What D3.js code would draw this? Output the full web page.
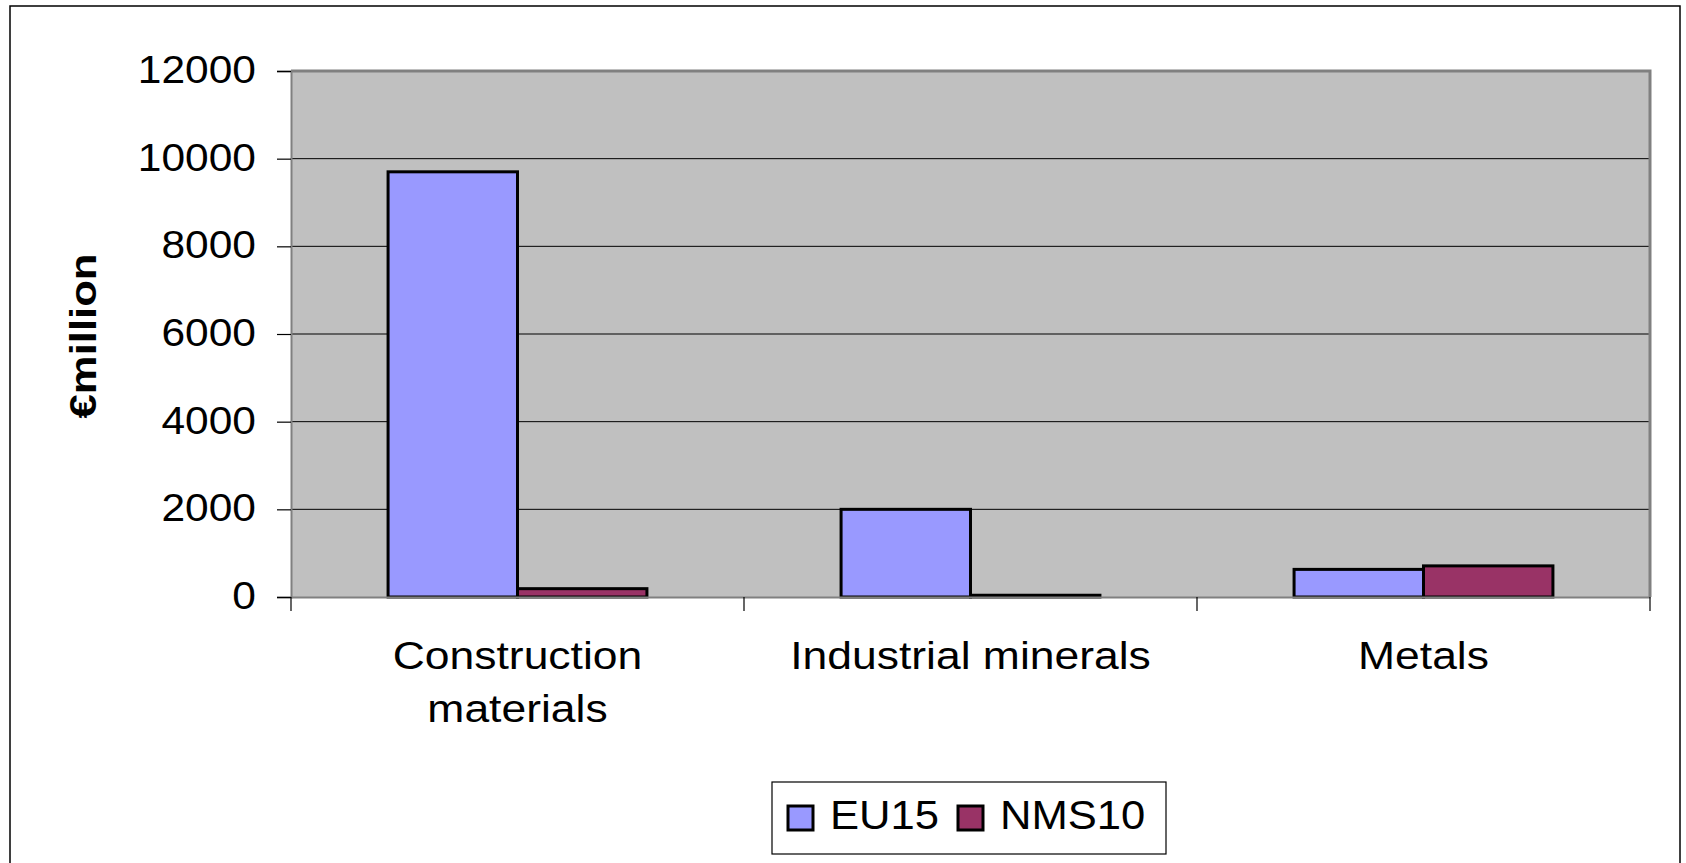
<!DOCTYPE html>
<html>
<head>
<meta charset="utf-8">
<script src="https://cdn.jsdelivr.net/npm/d3@7"></script>
<style>
  body { margin: 0; background: #fff; }
  text { font-family: "Liberation Sans", Arial, sans-serif; fill: #000; }
</style>
</head>
<body>
<div id="chart"></div>
<script>
// data
var categories = ["Construction materials", "Industrial minerals", "Metals"];
var categoryLines = [["Construction", "materials"], ["Industrial minerals"], ["Metals"]];
var seriesNames = ["EU15", "NMS10"];
var eu15 = [9700, 2000, 630];
var nms10 = [190, 40, 710];
var yTicks = [0, 2000, 4000, 6000, 8000, 10000, 12000];

var seriesColors = { "EU15": "#9999ff", "NMS10": "#993366" };
var seriesValues = { "EU15": eu15, "NMS10": nms10 };

var svgWidth = 1686;
var svgHeight = 863;

var plot = { left: 291, top: 71, right: 1650, bottom: 597 };

var svg = d3.select("#chart")
  .append("svg")
  .attr("width", svgWidth)
  .attr("height", svgHeight);

// outer chart frame (bottom edge runs off the picture)
svg.append("rect")
  .attr("x", 10)
  .attr("y", 6)
  .attr("width", 1670)
  .attr("height", 900)
  .attr("fill", "#fff")
  .attr("stroke", "#000")
  .attr("stroke-width", 1.5);

// scales
var xScale = d3.scaleBand()
  .domain(categories)
  .range([plot.left, plot.right])
  .paddingInner(0)
  .paddingOuter(0);

// excel gap width 150%
var gap = xScale.bandwidth() * 1.5 / 3.5;
var xSeries = d3.scaleBand()
  .domain(seriesNames)
  .range([gap / 2, xScale.bandwidth() - gap / 2]);

var yScale = d3.scaleLinear()
  .domain([0, 12000])
  .range([plot.bottom, plot.top]);

// stretched text helper, the original renders fonts a bit wide
function wideText(g, x, y, str, size, sx, anchor, weight) {
  return g.append("text")
    .attr("transform", `translate(${x}, ${y}) scale(${sx}, 1)`)
    .attr("font-size", size)
    .attr("font-weight", weight || "normal")
    .attr("text-anchor", anchor)
    .text(str);
}

// plot area
svg.append("rect")
  .attr("x", plot.left)
  .attr("y", plot.top)
  .attr("width", plot.right - plot.left)
  .attr("height", plot.bottom - plot.top)
  .attr("fill", "#c0c0c0");

// gridlines
svg.append("g")
  .selectAll("line")
  .data(yTicks.filter(d => d > 0 && d < 12000))
  .enter()
  .append("line")
  .attr("x1", plot.left)
  .attr("x2", plot.right)
  .attr("y1", d => yScale(d))
  .attr("y2", d => yScale(d))
  .attr("stroke", "#000")
  .attr("stroke-width", 1);

// plot border, top and right
svg.append("path")
  .attr("d", `M${plot.left},${plot.top}H${plot.right}V${plot.bottom}`)
  .attr("fill", "none")
  .attr("stroke", "#808080")
  .attr("stroke-width", 3);

// bars
var barGroups = svg.append("g")
  .selectAll("g")
  .data(categories)
  .enter()
  .append("g")
  .attr("transform", d => `translate(${xScale(d)}, 0)`);

barGroups.selectAll("rect")
  .data((d, i) => seriesNames.map(s => ({ series: s, value: seriesValues[s][i] })))
  .enter()
  .append("rect")
  .attr("x", d => xSeries(d.series))
  .attr("y", d => yScale(d.value))
  .attr("width", xSeries.bandwidth())
  .attr("height", d => plot.bottom - yScale(d.value))
  .attr("fill", d => seriesColors[d.series])
  .attr("stroke", "#000")
  .attr("stroke-width", 3);

// y axis
var leftAxis = d3.axisLeft(yScale)
  .tickValues(yTicks)
  .tickSize(14)
  .tickFormat("");

var yAxisG = svg.append("g")
  .attr("transform", `translate(${plot.left}, 0)`)
  .call(leftAxis);
yAxisG.select(".domain").attr("stroke", "#808080").attr("stroke-width", 2);
yAxisG.selectAll(".tick line").attr("stroke", "#000").attr("stroke-width", 1.2);

yTicks.forEach(function(t) {
  wideText(svg, 256, yScale(t) + 12, String(t), 39, 1.09, "end");
});

// x axis, ticks on category boundaries
var bottomAxis = d3.axisBottom(xScale)
  .tickSize(0)
  .tickFormat("");

var xAxisG = svg.append("g")
  .attr("transform", `translate(0, ${plot.bottom})`)
  .call(bottomAxis);
xAxisG.select(".domain").attr("stroke", "#808080").attr("stroke-width", 2);

xAxisG.selectAll(".boundary")
  .data(categories.map(c => xScale(c)).concat([plot.right]))
  .enter()
  .append("line")
  .attr("class", "boundary")
  .attr("x1", d => d)
  .attr("x2", d => d)
  .attr("y1", 0)
  .attr("y2", 14)
  .attr("stroke", "#000")
  .attr("stroke-width", 1.2);

categories.forEach(function(c, i) {
  var cx = xScale(c) + xScale.bandwidth() / 2;
  categoryLines[i].forEach(function(line, j) {
    wideText(svg, cx, 669 + j * 53, line, 39, 1.14, "middle");
  });
});

// y axis title
svg.append("text")
  .attr("transform", "translate(96, 336) rotate(-90) scale(1.18, 1)")
  .attr("font-size", 37)
  .attr("font-weight", "bold")
  .attr("text-anchor", "middle")
  .text("€million");

// legend
var legend = svg.append("g");
legend.append("rect")
  .attr("x", 772)
  .attr("y", 782)
  .attr("width", 394)
  .attr("height", 72)
  .attr("fill", "#fff")
  .attr("stroke", "#000")
  .attr("stroke-width", 1.2);

var legendX = [788, 958];
seriesNames.forEach(function(s, i) {
  legend.append("rect")
    .attr("x", legendX[i])
    .attr("y", 806)
    .attr("width", 25)
    .attr("height", 24)
    .attr("fill", seriesColors[s])
    .attr("stroke", "#000")
    .attr("stroke-width", 3);
  wideText(legend, legendX[i] + 42, 829, s, 40, 1.09, "start");
});
</script>
</body>
</html>
